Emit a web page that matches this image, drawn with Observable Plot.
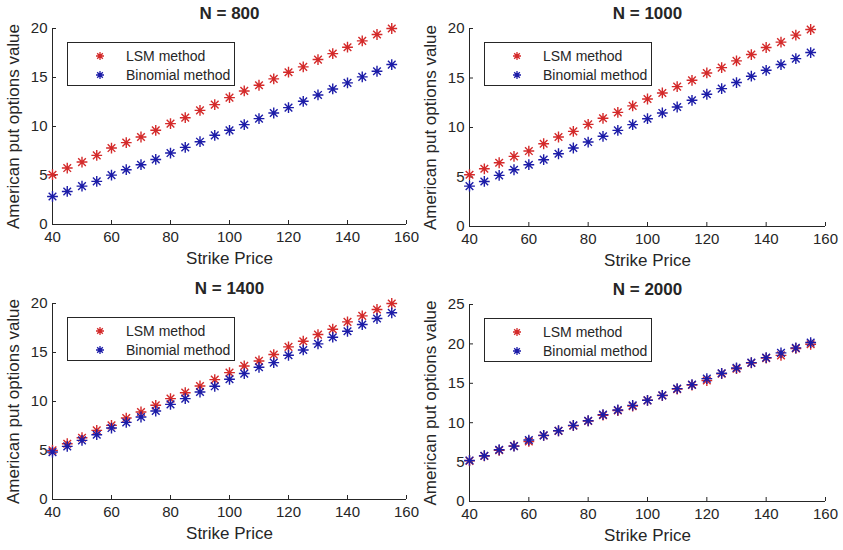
<!DOCTYPE html>
<html>
<head>
<meta charset="utf-8">
<script src="https://cdn.jsdelivr.net/npm/d3@7"></script>
<script src="https://cdn.jsdelivr.net/npm/@observablehq/plot@0.6"></script>
<style>
  body { margin: 0; background: #fff; }
  #wrap { position: relative; width: 843px; height: 550px; background: #fff; overflow: hidden; font-family: "Liberation Sans", Arial, sans-serif; }
  .panel { position: absolute; }
  .legend { position: absolute; border: 1px solid #262626; background: #fff; box-sizing: border-box; font-size: 14px; color: #262626; }
  .legend .row { position: absolute; left: 0; height: 16px; line-height: 16px; white-space: nowrap; }
  .legend svg { position: absolute; left: 25px; top: 1px; }
  .legend span { position: absolute; left: 58px; top: 0; }
</style>
</head>
<body>
<div id="wrap"></div>
<script>
// ---- data ----
const strikes = [40, 45, 50, 55, 60, 65, 70, 75, 80, 85, 90, 95, 100, 105, 110, 115, 120, 125, 130, 135, 140, 145, 150, 155];
const xTicks = [40, 60, 80, 100, 120, 140, 160];
const yTicks20 = [0, 5, 10, 15, 20];
const yTicks25 = [0, 5, 10, 15, 20, 25];
const titles = ["N = 800", "N = 1000", "N = 1400", "N = 2000"];
const seriesNames = ["LSM method", "Binomial method"];

const lsm800  = [5.08, 5.76, 6.37, 7.05, 7.80, 8.35, 8.93, 9.61, 10.29, 10.90, 11.65, 12.23, 12.95, 13.63, 14.21, 14.86, 15.54, 16.08, 16.83, 17.44, 18.09, 18.74, 19.39, 20.00];
const bin800  = [2.86, 3.37, 3.92, 4.40, 5.04, 5.59, 6.10, 6.64, 7.29, 7.87, 8.45, 9.10, 9.61, 10.19, 10.80, 11.38, 11.93, 12.57, 13.22, 13.83, 14.45, 15.06, 15.64, 16.32];
const lsm1000 = [5.23, 5.83, 6.44, 7.08, 7.62, 8.36, 9.04, 9.61, 10.32, 10.93, 11.53, 12.18, 12.88, 13.49, 14.13, 14.77, 15.51, 16.05, 16.73, 17.37, 18.08, 18.62, 19.33, 19.90];
const bin1000 = [4.08, 4.55, 5.16, 5.73, 6.24, 6.75, 7.35, 7.93, 8.53, 9.11, 9.71, 10.29, 10.89, 11.47, 12.07, 12.75, 13.36, 13.93, 14.54, 15.18, 15.78, 16.36, 16.96, 17.57];
const lsm1400 = [5.01, 5.69, 6.30, 7.05, 7.56, 8.31, 8.93, 9.61, 10.29, 10.90, 11.58, 12.23, 12.95, 13.63, 14.14, 14.79, 15.57, 16.15, 16.83, 17.38, 18.13, 18.74, 19.39, 20.00];
const bin1400 = [4.84, 5.42, 6.03, 6.61, 7.29, 7.87, 8.42, 9.03, 9.71, 10.29, 10.97, 11.55, 12.27, 12.85, 13.49, 13.97, 14.72, 15.26, 15.88, 16.56, 17.17, 17.85, 18.47, 19.05];
const lsm2000 = [5.15, 5.78, 6.50, 7.05, 7.62, 8.38, 8.97, 9.62, 10.22, 10.95, 11.55, 12.10, 12.84, 13.45, 14.26, 14.78, 15.35, 16.22, 16.85, 17.58, 18.20, 18.55, 19.42, 19.95];
const bin2000 = [5.21, 5.81, 6.57, 7.03, 7.80, 8.39, 8.98, 9.66, 10.25, 11.02, 11.61, 12.20, 12.84, 13.47, 14.32, 14.83, 15.59, 16.27, 16.95, 17.63, 18.26, 18.86, 19.49, 20.17];

const lsmColor = "#d42a2a";
const binColor = "#1c1ca8";
const ink = "#262626";

// 8-armed MATLAB-style asterisk
const star = {
  draw(ctx, size) {
    const r = Math.sqrt(size / Math.PI);
    const d = r * Math.SQRT1_2;
    ctx.moveTo(-r, 0); ctx.lineTo(r, 0);
    ctx.moveTo(0, -r); ctx.lineTo(0, r);
    ctx.moveTo(-d, -d); ctx.lineTo(d, d);
    ctx.moveTo(-d, d); ctx.lineTo(d, -d);
  }
};

const panels = [
  {title: titles[0], lsm: lsm800,  bin: bin800,  yTicks: yTicks20, left: 0,   top: 0,   width: 421, height: 275, ml: 52, mr: 15, mt: 28, mb: 51},
  {title: titles[1], lsm: lsm1000, bin: bin1000, yTicks: yTicks20, left: 421, top: 0,   width: 422, height: 275, ml: 48, mr: 18, mt: 28, mb: 49},
  {title: titles[2], lsm: lsm1400, bin: bin1400, yTicks: yTicks20, left: 0,   top: 275, width: 421, height: 275, ml: 52, mr: 15, mt: 28, mb: 51},
  {title: titles[3], lsm: lsm2000, bin: bin2000, yTicks: yTicks25, left: 421, top: 275, width: 422, height: 275, ml: 48, mr: 18, mt: 29, mb: 49}
];

const wrap = document.getElementById("wrap");

for (const p of panels) {
  const lsmData = strikes.map((x, i) => ({x, y: p.lsm[i]}));
  const binData = strikes.map((x, i) => ({x, y: p.bin[i]}));
  const yMax = p.yTicks[p.yTicks.length - 1];
  const chart = Plot.plot({
    width: p.width,
    height: p.height,
    marginLeft: p.ml,
    marginRight: p.mr,
    marginTop: p.mt,
    marginBottom: p.mb,
    style: {fontFamily: "'Liberation Sans', Arial, sans-serif", color: ink, background: "transparent", overflow: "visible"},
    x: {domain: [40, 160]},
    y: {domain: [0, yMax]},
    marks: [
      Plot.axisX({ticks: xTicks, tickSize: 0, tickPadding: 7, fontSize: 15, fill: ink, label: null}),
      Plot.axisX({ticks: xTicks, tickSize: -4, text: null, stroke: ink, label: null}),
      Plot.axisY({ticks: p.yTicks, tickSize: 0, tickPadding: 5, fontSize: 15, fill: ink, label: null}),
      Plot.axisY({ticks: p.yTicks, tickSize: -4, text: null, stroke: ink, label: null}),
      Plot.ruleX([40], {stroke: ink, strokeWidth: 1}),
      Plot.ruleY([0], {stroke: ink, strokeWidth: 1}),
      Plot.dot(lsmData, {x: "x", y: "y", symbol: star, r: 5.4, stroke: lsmColor, fill: "none", strokeWidth: 1.4}),
      Plot.dot(binData, {x: "x", y: "y", symbol: star, r: 5.4, stroke: binColor, fill: "none", strokeWidth: 1.4}),
      Plot.text([p.title], {frameAnchor: "top", dy: -15, fontSize: 17, fontWeight: "bold", fill: ink, lineAnchor: "middle"}),
      Plot.text(["Strike Price"], {frameAnchor: "bottom", dy: 34, fontSize: 17, fill: ink, lineAnchor: "middle"}),
      Plot.text(["American put options value"], {frameAnchor: "left", textAnchor: "middle", dx: -39, rotate: -90, fontSize: 17, fill: ink, lineAnchor: "middle"})
    ]
  });
  chart.classList.add("panel");
  chart.style.left = p.left + "px";
  chart.style.top = p.top + "px";
  wrap.appendChild(chart);

  // legend box
  const lg = document.createElement("div");
  lg.className = "legend";
  lg.style.left = (p.left + p.ml + 15) + "px";
  lg.style.top = (p.top + p.mt + 14) + "px";
  lg.style.width = "168px";
  lg.style.height = "44px";
  const colors = [lsmColor, binColor];
  seriesNames.forEach((name, i) => {
    const row = document.createElement("div");
    row.className = "row";
    row.style.top = (5 + i * 19) + "px";
    row.style.width = "100%";
    const r = 4;
    const d = r * Math.SQRT1_2;
    row.innerHTML = `<svg width="14" height="14" viewBox="-7 -7 14 14"><path d="M${-r},0L${r},0M0,${-r}L0,${r}M${-d},${-d}L${d},${d}M${-d},${d}L${d},${-d}" stroke="${colors[i]}" stroke-width="1.3" fill="none"/></svg><span>${name}</span>`;
    lg.appendChild(row);
  });
  wrap.appendChild(lg);
}
</script>
</body>
</html>
